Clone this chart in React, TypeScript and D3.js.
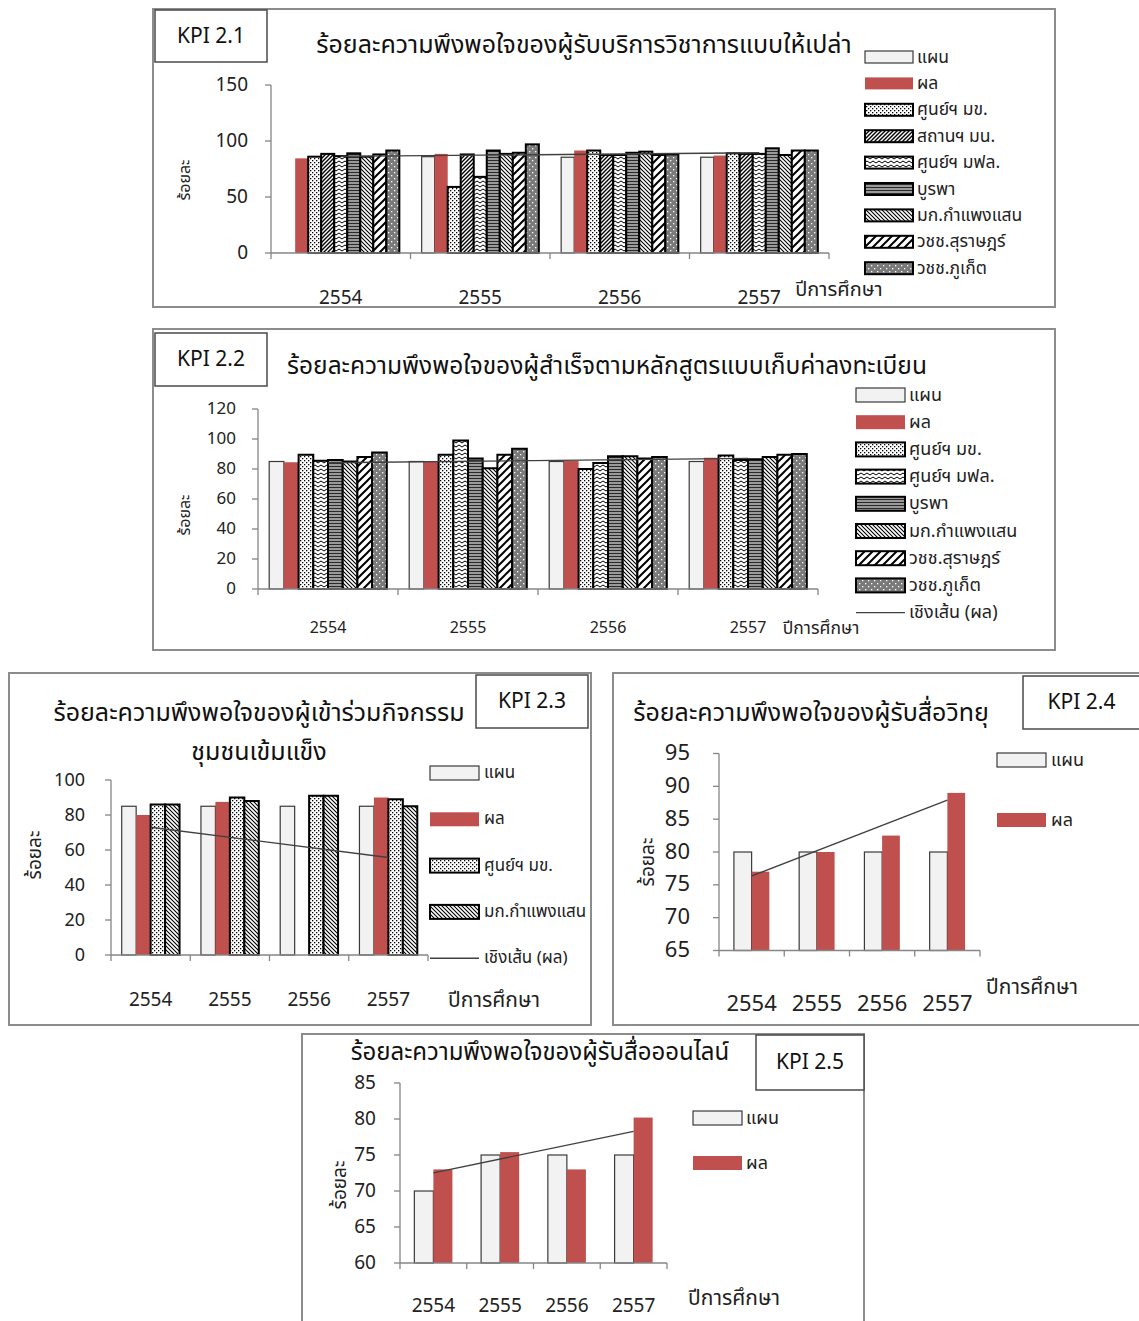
import React from "react";
import * as d3 from "d3";

// ---------- shared categories and labels ----------
const years = ["2554", "2555", "2556", "2557"];
const LABEL_PLAN = "แผน";
const LABEL_RESULT = "ผล";
const ORG_KKU = "ศูนย์ฯ มข.";
const ORG_NU = "สถานฯ มน.";
const ORG_MFU = "ศูนย์ฯ มฟล.";
const ORG_BUU = "บูรพา";
const ORG_KPS = "มก.กำแพงแสน";
const ORG_SURAT = "วชช.สุราษฎร์";
const ORG_PHUKET = "วชช.ภูเก็ต";
const LABEL_TREND = "เชิงเส้น (ผล)";
const X_TITLE = "ปีการศึกษา";
const Y_TITLE = "ร้อยละ";

// ---------- KPI 2.1 ----------
const kpi21Plan = [null, 86, 85.5, 85.5];
const kpi21Result = [84.5, 88.5, 91.5, 87];
const kpi21KKU = [86, 59, 91.5, 89];
const kpi21NU = [88.5, 88, 87.5, 88.5];
const kpi21MFU = [86.5, 68, 87.5, 88.5];
const kpi21BUU = [89, 91.5, 89.5, 93.5];
const kpi21KPS = [86, 88.5, 90.5, 87.5];
const kpi21Surat = [88, 89.5, 87.5, 91.5];
const kpi21Phuket = [91.5, 97, 88, 91.5];
const kpi21Ticks = [0, 50, 100, 150];

// ---------- KPI 2.2 ----------
const kpi22Plan = [85, 85, 85, 85];
const kpi22Result = [84.5, 85, 85.5, 87.5];
const kpi22KKU = [89.5, 89.5, 80, 89];
const kpi22MFU = [85.5, 99, 84, 86];
const kpi22BUU = [86, 87, 88.5, 86.5];
const kpi22KPS = [85, 80.5, 88.5, 88];
const kpi22Surat = [88, 89.5, 87, 89.5];
const kpi22Phuket = [91, 93.5, 88, 90];
const kpi22Ticks = [0, 20, 40, 60, 80, 100, 120];

// ---------- KPI 2.3 ----------
const kpi23Plan = [85, 85, 85, 85];
const kpi23Result = [80, 87.5, 0, 90];
const kpi23KKU = [86, 90, 91, 89];
const kpi23KPS = [86, 88, 91, 85];
const kpi23Ticks = [0, 20, 40, 60, 80, 100];

// ---------- KPI 2.4 ----------
const kpi24Plan = [80, 80, 80, 80];
const kpi24Result = [77, 80, 82.5, 89];
const kpi24Ticks = [65, 70, 75, 80, 85, 90, 95];

// ---------- KPI 2.5 ----------
const kpi25Plan = [70, 75, 75, 75];
const kpi25Result = [73, 75.4, 73, 80.2];
const kpi25Ticks = [60, 65, 70, 75, 80, 85];

const FONT =
  "Tahoma, 'Noto Sans Thai', 'Leelawadee UI', 'Noto Sans', 'DejaVu Sans', sans-serif";
const RED = "#c0504d";
const PLAN_FILL = "#f2f2f2";
const AXIS = "#868686";

// fill pattern used by each organisation
const orgPattern: Record<string, string> = {
  [ORG_KKU]: "url(#pDots)",
  [ORG_NU]: "url(#pDiagFwd)",
  [ORG_MFU]: "url(#pWave)",
  [ORG_BUU]: "url(#pHoriz)",
  [ORG_KPS]: "url(#pDiagBack)",
  [ORG_SURAT]: "url(#pZig)",
  [ORG_PHUKET]: "url(#pGrayDots)",
};

type Series = { name: string; values: (number | null)[] };

function styleFor(name: string) {
  if (name === LABEL_PLAN) return { fill: PLAN_FILL, stroke: "#3a3a3a", strokeWidth: 1.2 };
  if (name === LABEL_RESULT) return { fill: RED, stroke: "none", strokeWidth: 0 };
  return { fill: orgPattern[name], stroke: "#000", strokeWidth: 2 };
}

// least-squares line through the result series (x = category index)
function linearTrend(values: number[]) {
  const n = values.length;
  const xs = values.map((_, i) => i);
  const mx = d3.mean(xs) as number;
  const my = d3.mean(values) as number;
  let num = 0;
  let den = 0;
  xs.forEach((x, i) => {
    num += (x - mx) * (values[i] - my);
    den += (x - mx) * (x - mx);
  });
  const slope = num / den;
  return [my - slope * mx, my + slope * (n - 1 - mx)];
}

type PanelProps = {
  frame: [number, number, number, number];
  kpi: { x: number; y: number; w: number; h: number; label: string };
  titles: { text: string; x: number; y: number }[];
  titleSize: number;
  left: number;
  right: number;
  yTop: number;
  yBottom: number;
  domain: [number, number];
  ticks: number[];
  tickLabelRight: number;
  tickSize: number;
  xLabelY: number;
  xLabelSize: number;
  gapFrac: number;
  series: Series[];
  xTitle: { x: number; y: number; size: number };
  yTitle: { x: number; y: number; size: number };
  legend: { x: number; y: number; dy: number; w: number; h: number; textX: number; size: number; trend: boolean };
};

function Panel(p: PanelProps) {
  const y = d3.scaleLinear().domain(p.domain).range([p.yBottom, p.yTop]);
  const x0 = d3.scaleBand<string>().domain(years).range([p.left, p.right]);
  const bw = x0.bandwidth();
  const x1 = d3
    .scaleBand<string>()
    .domain(p.series.map((s) => s.name))
    .range([(bw * p.gapFrac) / 2, bw * (1 - p.gapFrac / 2)]);

  const result = p.series.find((s) => s.name === LABEL_RESULT)!;
  const [t0, t1] = linearTrend(result.values.map((v) => v ?? 0));
  const trendPath = d3.line<[number, number]>()([
    [(x0(years[0]) as number) + bw / 2, y(t0)],
    [(x0(years[years.length - 1]) as number) + bw / 2, y(t1)],
  ]);

  const boundaries = years.map((yr) => x0(yr) as number).concat([p.right]);

  const legendItems = p.series.map((s) => s.name);

  return (
    <g fontFamily={FONT}>
      <rect x={p.frame[0]} y={p.frame[1]} width={p.frame[2]} height={p.frame[3]} fill="#fff" stroke="#8c8c8c" strokeWidth={2} />
      <rect x={p.kpi.x} y={p.kpi.y} width={p.kpi.w} height={p.kpi.h} fill="#fff" stroke="#4a4a4a" strokeWidth={1.5} />
      <text x={p.kpi.x + p.kpi.w / 2} y={p.kpi.y + p.kpi.h / 2} textAnchor="middle" dominantBaseline="central" fontSize={21} fill="#111">
        {p.kpi.label}
      </text>
      {p.titles.map((t, i) => (
        <text key={i} x={t.x} y={t.y} textAnchor="middle" dominantBaseline="central" fontSize={p.titleSize} fill="#111">
          {t.text}
        </text>
      ))}

      {/* bars */}
      {years.map((yr, i) => (
        <g key={yr}>
          {p.series.map((s) => {
            const v = s.values[i];
            if (v == null || v <= p.domain[0]) return null;
            const st = styleFor(s.name);
            return (
              <rect
                key={s.name}
                x={(x0(yr) as number) + (x1(s.name) as number)}
                y={y(v)}
                width={x1.bandwidth()}
                height={y(p.domain[0]) - y(v)}
                fill={st.fill}
                stroke={st.stroke}
                strokeWidth={st.strokeWidth}
              />
            );
          })}
        </g>
      ))}

      {/* trend line of the result series */}
      <path d={trendPath as string} fill="none" stroke="#404040" strokeWidth={1.4} />

      {/* y axis */}
      <line x1={p.left} x2={p.left} y1={y(p.domain[1])} y2={y(p.domain[0])} stroke={AXIS} strokeWidth={1.3} />
      {p.ticks.map((t) => (
        <g key={t}>
          <line x1={p.left - 6} x2={p.left} y1={y(t)} y2={y(t)} stroke={AXIS} strokeWidth={1.3} />
          <text x={p.tickLabelRight} y={y(t)} textAnchor="end" dominantBaseline="central" fontSize={p.tickSize} fill="#222">
            {t}
          </text>
        </g>
      ))}
      {/* x axis */}
      <line x1={p.left} x2={p.right} y1={y(p.domain[0])} y2={y(p.domain[0])} stroke={AXIS} strokeWidth={1.3} />
      {boundaries.map((bx, i) => (
        <line key={i} x1={bx} x2={bx} y1={y(p.domain[0])} y2={y(p.domain[0]) + 6} stroke={AXIS} strokeWidth={1.3} />
      ))}
      {years.map((yr) => (
        <text key={yr} x={(x0(yr) as number) + bw / 2} y={p.xLabelY} textAnchor="middle" dominantBaseline="central" fontSize={p.xLabelSize} fill="#222">
          {yr}
        </text>
      ))}
      <text x={p.xTitle.x} y={p.xTitle.y} textAnchor="middle" dominantBaseline="central" fontSize={p.xTitle.size} fill="#222">
        {X_TITLE}
      </text>
      <text
        transform={`translate(${p.yTitle.x},${p.yTitle.y}) rotate(-90)`}
        textAnchor="middle"
        dominantBaseline="central"
        fontSize={p.yTitle.size}
        fill="#222"
      >
        {Y_TITLE}
      </text>

      {/* legend */}
      {legendItems.map((name, i) => {
        const cy = p.legend.y + i * p.legend.dy;
        const st = styleFor(name);
        return (
          <g key={name}>
            <rect
              x={p.legend.x}
              y={cy - p.legend.h / 2}
              width={p.legend.w}
              height={p.legend.h}
              fill={st.fill}
              stroke={st.stroke}
              strokeWidth={st.strokeWidth}
            />
            <text x={p.legend.textX} y={cy} dominantBaseline="central" fontSize={p.legend.size} fill="#222">
              {name}
            </text>
          </g>
        );
      })}
      {p.legend.trend && (
        <g>
          <line
            x1={p.legend.x}
            x2={p.legend.x + p.legend.w}
            y1={p.legend.y + legendItems.length * p.legend.dy}
            y2={p.legend.y + legendItems.length * p.legend.dy}
            stroke="#404040"
            strokeWidth={1.4}
          />
          <text x={p.legend.textX} y={p.legend.y + legendItems.length * p.legend.dy} dominantBaseline="central" fontSize={p.legend.size} fill="#222">
            {LABEL_TREND}
          </text>
        </g>
      )}
    </g>
  );
}

function Patterns() {
  return (
    <defs>
      <pattern id="pDots" width={4} height={4} patternUnits="userSpaceOnUse">
        <rect width={4} height={4} fill="#fff" />
        <rect x={0} y={0} width={1.3} height={1.3} fill="#000" />
        <rect x={2} y={2} width={1.3} height={1.3} fill="#000" />
      </pattern>
      <pattern id="pDiagFwd" width={4} height={4} patternUnits="userSpaceOnUse">
        <rect width={4} height={4} fill="#fff" />
        <path d="M-1,1 L1,-1 M0,4 L4,0 M3,5 L5,3" stroke="#000" strokeWidth={1.4} />
      </pattern>
      <pattern id="pWave" width={6} height={4} patternUnits="userSpaceOnUse">
        <rect width={6} height={4} fill="#fff" />
        <path d="M0,3 L3,1 L6,3" fill="none" stroke="#000" strokeWidth={1} />
      </pattern>
      <pattern id="pHoriz" width={4} height={3} patternUnits="userSpaceOnUse">
        <rect width={4} height={3} fill="#9a9a9a" />
        <rect x={0} y={1} width={4} height={1} fill="#2a2a2a" />
      </pattern>
      <pattern id="pDiagBack" width={4} height={4} patternUnits="userSpaceOnUse">
        <rect width={4} height={4} fill="#fff" />
        <path d="M-1,3 L1,5 M0,0 L4,4 M3,-1 L5,1" stroke="#000" strokeWidth={1.1} />
      </pattern>
      <pattern id="pZig" width={8} height={8} patternUnits="userSpaceOnUse">
        <rect width={8} height={8} fill="#fff" />
        <path d="M-2,2 L2,-2 M0,8 L8,0 M6,10 L10,6" stroke="#000" strokeWidth={2} />
      </pattern>
      <pattern id="pGrayDots" width={6} height={6} patternUnits="userSpaceOnUse">
        <rect width={6} height={6} fill="#7a7a7a" />
        <rect x={1} y={1} width={1.3} height={1.3} fill="#fff" />
        <rect x={4} y={4} width={1.3} height={1.3} fill="#fff" />
      </pattern>
    </defs>
  );
}

export default function App() {
  const s21: Series[] = [
    { name: LABEL_PLAN, values: kpi21Plan },
    { name: LABEL_RESULT, values: kpi21Result },
    { name: ORG_KKU, values: kpi21KKU },
    { name: ORG_NU, values: kpi21NU },
    { name: ORG_MFU, values: kpi21MFU },
    { name: ORG_BUU, values: kpi21BUU },
    { name: ORG_KPS, values: kpi21KPS },
    { name: ORG_SURAT, values: kpi21Surat },
    { name: ORG_PHUKET, values: kpi21Phuket },
  ];
  const s22: Series[] = [
    { name: LABEL_PLAN, values: kpi22Plan },
    { name: LABEL_RESULT, values: kpi22Result },
    { name: ORG_KKU, values: kpi22KKU },
    { name: ORG_MFU, values: kpi22MFU },
    { name: ORG_BUU, values: kpi22BUU },
    { name: ORG_KPS, values: kpi22KPS },
    { name: ORG_SURAT, values: kpi22Surat },
    { name: ORG_PHUKET, values: kpi22Phuket },
  ];
  const s23: Series[] = [
    { name: LABEL_PLAN, values: kpi23Plan },
    { name: LABEL_RESULT, values: kpi23Result },
    { name: ORG_KKU, values: kpi23KKU },
    { name: ORG_KPS, values: kpi23KPS },
  ];
  const s24: Series[] = [
    { name: LABEL_PLAN, values: kpi24Plan },
    { name: LABEL_RESULT, values: kpi24Result },
  ];
  const s25: Series[] = [
    { name: LABEL_PLAN, values: kpi25Plan },
    { name: LABEL_RESULT, values: kpi25Result },
  ];

  return (
    <svg
      width={1139}
      height={1321}
      style={{ position: "absolute", left: 0, top: 0, display: "block", background: "#fff" }}
    >
      <Patterns />
      <rect width={1139} height={1321} fill="#fff" />

      <Panel
        frame={[153, 9, 902, 298]}
        kpi={{ x: 155, y: 10, w: 112, h: 52, label: "KPI 2.1" }}
        titles={[{ text: "ร้อยละความพึงพอใจของผู้รับบริการวิชาการแบบให้เปล่า", x: 584, y: 45 }]}
        titleSize={25}
        left={271}
        right={829}
        yTop={85}
        yBottom={253}
        domain={[0, 150]}
        ticks={kpi21Ticks}
        tickLabelRight={248}
        tickSize={19}
        xLabelY={298}
        xLabelSize={19}
        gapFrac={0.16}
        series={s21}
        xTitle={{ x: 839, y: 290, size: 20 }}
        yTitle={{ x: 185, y: 180, size: 16 }}
        legend={{ x: 865, y: 57, dy: 26.4, w: 48, h: 12, textX: 917, size: 17.5, trend: false }}
      />

      <Panel
        frame={[153, 329, 902, 321]}
        kpi={{ x: 155, y: 333, w: 112, h: 53, label: "KPI 2.2" }}
        titles={[{ text: "ร้อยละความพึงพอใจของผู้สำเร็จตามหลักสูตรแบบเก็บค่าลงทะเบียน", x: 607, y: 366 }]}
        titleSize={24.5}
        left={258}
        right={818}
        yTop={409}
        yBottom={589}
        domain={[0, 120]}
        ticks={kpi22Ticks}
        tickLabelRight={236}
        tickSize={17}
        xLabelY={628}
        xLabelSize={16}
        gapFrac={0.16}
        series={s22}
        xTitle={{ x: 821, y: 628, size: 17.5 }}
        yTitle={{ x: 185, y: 515, size: 16 }}
        legend={{ x: 856, y: 395, dy: 27.2, w: 49, h: 14, textX: 909, size: 18, trend: true }}
      />

      <Panel
        frame={[9, 673, 582, 352]}
        kpi={{ x: 476, y: 675, w: 112, h: 53, label: "KPI 2.3" }}
        titles={[
          { text: "ร้อยละความพึงพอใจของผู้เข้าร่วมกิจกรรม", x: 259, y: 713 },
          { text: "ชุมชนเข้มแข็ง", x: 259, y: 752 },
        ]}
        titleSize={25}
        left={111}
        right={428}
        yTop={780}
        yBottom={955}
        domain={[0, 100]}
        ticks={kpi23Ticks}
        tickLabelRight={85}
        tickSize={18}
        xLabelY={1000}
        xLabelSize={19}
        gapFrac={0.27}
        series={s23}
        xTitle={{ x: 494, y: 1000, size: 21 }}
        yTitle={{ x: 35, y: 855, size: 19 }}
        legend={{ x: 430, y: 773, dy: 46.3, w: 49, h: 14, textX: 484, size: 17, trend: true }}
      />

      <Panel
        frame={[613, 673, 540, 352]}
        kpi={{ x: 1023, y: 676, w: 117, h: 53, label: "KPI 2.4" }}
        titles={[{ text: "ร้อยละความพึงพอใจของผู้รับสื่อวิทยุ", x: 811, y: 713 }]}
        titleSize={25}
        left={719}
        right={980}
        yTop={753.5}
        yBottom={950.5}
        domain={[65, 95]}
        ticks={kpi24Ticks}
        tickLabelRight={690}
        tickSize={22}
        xLabelY={1004}
        xLabelSize={22}
        gapFrac={0.457}
        series={s24}
        xTitle={{ x: 1032, y: 987, size: 21 }}
        yTitle={{ x: 648, y: 862, size: 19 }}
        legend={{ x: 997, y: 760, dy: 60, w: 49, h: 14, textX: 1051, size: 18, trend: false }}
      />

      <Panel
        frame={[302, 1034, 562, 300]}
        kpi={{ x: 756, y: 1035, w: 108, h: 55, label: "KPI 2.5" }}
        titles={[{ text: "ร้อยละความพึงพอใจของผู้รับสื่อออนไลน์", x: 540, y: 1053 }]}
        titleSize={24}
        left={400}
        right={667}
        yTop={1083}
        yBottom={1263}
        domain={[60, 85]}
        ticks={kpi25Ticks}
        tickLabelRight={376}
        tickSize={19}
        xLabelY={1306}
        xLabelSize={19}
        gapFrac={0.43}
        series={s25}
        xTitle={{ x: 734, y: 1298, size: 21 }}
        yTitle={{ x: 340, y: 1185, size: 19 }}
        legend={{ x: 693, y: 1118, dy: 45, w: 49, h: 14, textX: 746, size: 18, trend: false }}
      />
    </svg>
  );
}
